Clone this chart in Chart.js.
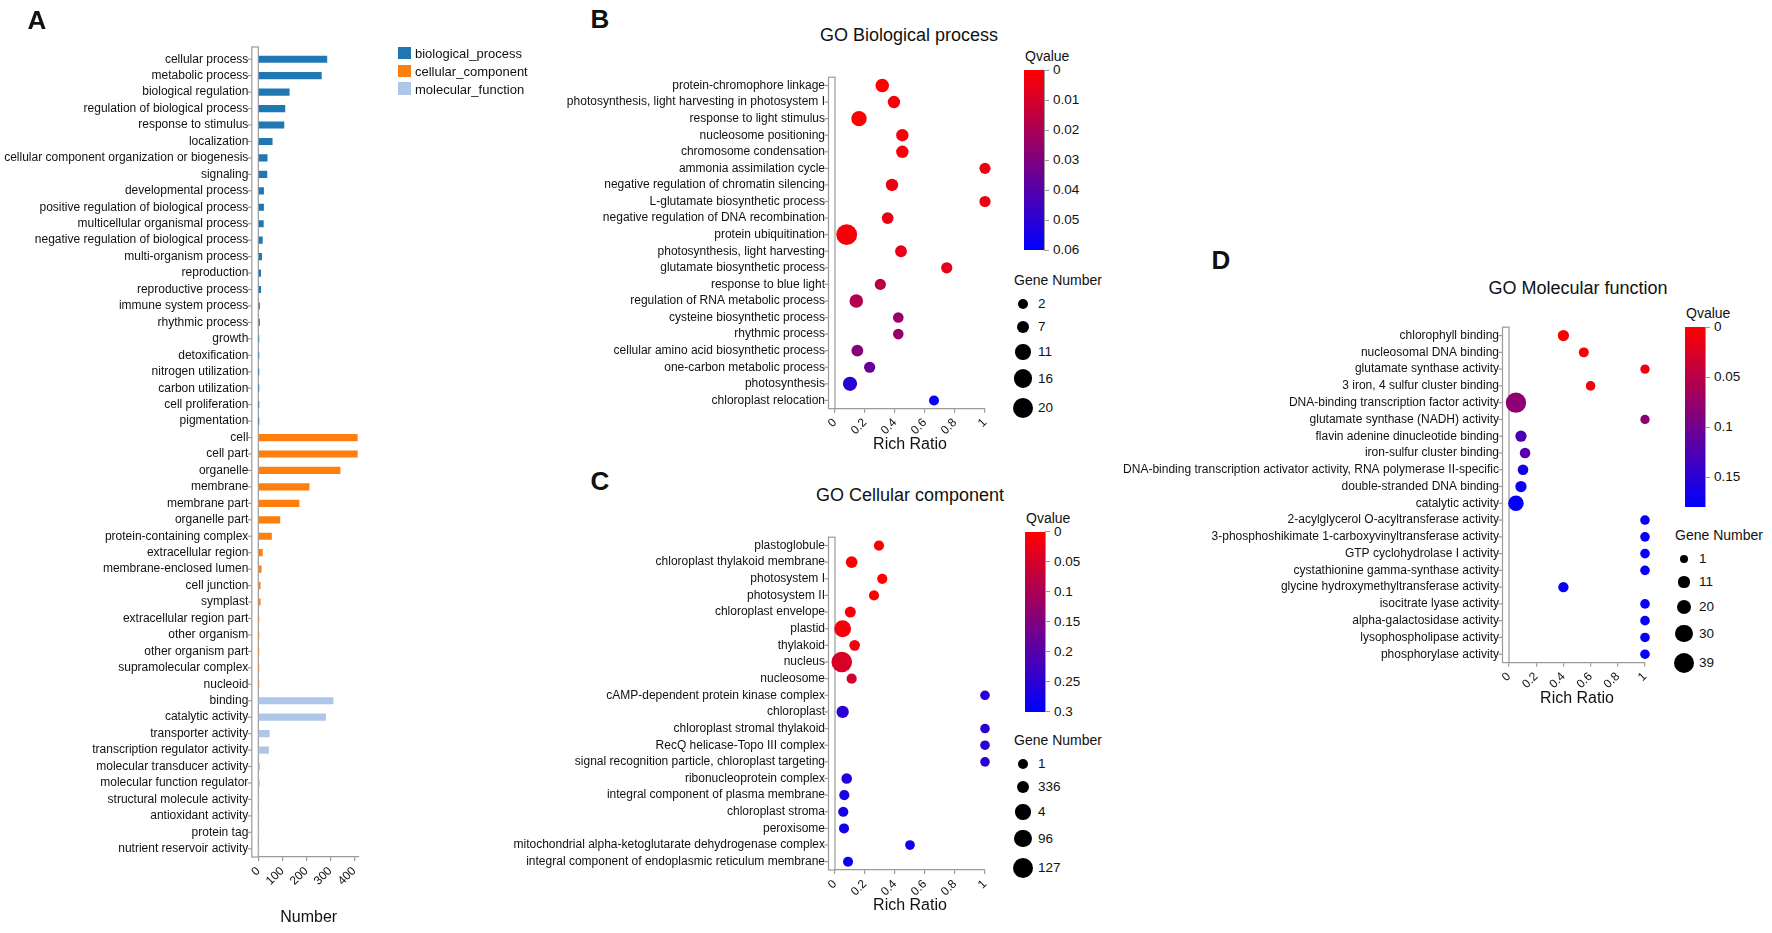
<!DOCTYPE html>
<html>
<head>
<meta charset="utf-8">
<script src="https://cdn.jsdelivr.net/npm/chart.js@4.4.1/dist/chart.umd.min.js"></script>
<style>
  body { margin: 0; background: #fff; font-family: 'Liberation Sans', Arial, sans-serif; color: #111; }
  #page { position: relative; width: 1772px; height: 933px; overflow: hidden; background: #fff; }
  canvas { position: absolute; }
  .abs { position: absolute; white-space: nowrap; line-height: 1; }
</style>
</head>
<body>
<div id="page">
  <canvas id="chartA" width="395" height="933" style="left:0;top:0;width:395px;height:933px"></canvas>
  <canvas id="chartB" width="500" height="400" style="left:500px;top:60px;width:500px;height:400px"></canvas>
  <canvas id="chartC" width="500" height="401" style="left:500px;top:520px;width:500px;height:401px"></canvas>
  <canvas id="chartD" width="550" height="404" style="left:1110px;top:310px;width:550px;height:404px"></canvas>
</div>
<script>
// ---- panel A: GO classification counts ----
const bpCats = ['cellular process', 'metabolic process', 'biological regulation', 'regulation of biological process',
  'response to stimulus', 'localization', 'cellular component organization or biogenesis', 'signaling',
  'developmental process', 'positive regulation of biological process', 'multicellular organismal process',
  'negative regulation of biological process', 'multi-organism process', 'reproduction', 'reproductive process',
  'immune system process', 'rhythmic process', 'growth', 'detoxification', 'nitrogen utilization',
  'carbon utilization', 'cell proliferation', 'pigmentation'];
const bpCounts = [286, 263, 129, 111, 107, 58, 37, 36, 22, 22, 21, 17, 14, 10, 10, 5, 5, 2, 2, 1, 1, 1, 1];

const ccCats = ['cell', 'cell part', 'organelle', 'membrane', 'membrane part', 'organelle part',
  'protein-containing complex', 'extracellular region', 'membrane-enclosed lumen', 'cell junction', 'symplast',
  'extracellular region part', 'other organism', 'other organism part', 'supramolecular complex', 'nucleoid'];
const ccCounts = [413, 413, 341, 212, 170, 90, 55, 17, 12, 8, 8, 2, 1, 1, 1, 1];

const mfCats = ['binding', 'catalytic activity', 'transporter activity', 'transcription regulator activity',
  'molecular transducer activity', 'molecular function regulator', 'structural molecule activity',
  'antioxidant activity', 'protein tag', 'nutrient reservoir activity'];
const mfCounts = [312, 281, 46, 43, 6, 5, 2, 1, 1, 1];

const aTicks = [0, 100, 200, 300, 400];

// ---- panel B: GO Biological process enrichment ----
const bpTerms = ['protein-chromophore linkage', 'photosynthesis, light harvesting in photosystem I',
  'response to light stimulus', 'nucleosome positioning', 'chromosome condensation', 'ammonia assimilation cycle',
  'negative regulation of chromatin silencing', 'L-glutamate biosynthetic process',
  'negative regulation of DNA recombination', 'protein ubiquitination', 'photosynthesis, light harvesting',
  'glutamate biosynthetic process', 'response to blue light', 'regulation of RNA metabolic process',
  'cysteine biosynthetic process', 'rhythmic process', 'cellular amino acid biosynthetic process',
  'one-carbon metabolic process', 'photosynthesis', 'chloroplast relocation'];
const bpRich = [0.315, 0.393, 0.16, 0.449, 0.449, 1.0, 0.38, 1.0, 0.351, 0.078,
  0.44, 0.745, 0.302, 0.142, 0.422, 0.422, 0.149, 0.231, 0.1, 0.66];
const bpGenes = [8, 6, 11, 6, 6, 4, 6, 4, 5, 20, 5, 4, 4, 8, 3, 3, 5, 4, 9, 2];
const bpQ = [0.0, 0.002, 0.0, 0.002, 0.002, 0.004, 0.004, 0.004, 0.005, 0.002,
  0.005, 0.006, 0.016, 0.018, 0.025, 0.025, 0.028, 0.036, 0.05, 0.058];
const bpQTicks = [0, 0.01, 0.02, 0.03, 0.04, 0.05, 0.06];
const bpSizeTicks = [2, 7, 11, 16, 20];

// ---- panel C: GO Cellular component enrichment ----
const ccTerms = ['plastoglobule', 'chloroplast thylakoid membrane', 'photosystem I', 'photosystem II',
  'chloroplast envelope', 'plastid', 'thylakoid', 'nucleus', 'nucleosome', 'cAMP-dependent protein kinase complex',
  'chloroplast', 'chloroplast stromal thylakoid', 'RecQ helicase-Topo III complex',
  'signal recognition particle, chloroplast targeting', 'ribonucleoprotein complex',
  'integral component of plasma membrane', 'chloroplast stroma', 'peroxisome',
  'mitochondrial alpha-ketoglutarate dehydrogenase complex', 'integral component of endoplasmic reticulum membrane'];
const ccRich = [0.293, 0.111, 0.315, 0.26, 0.102, 0.051, 0.131, 0.045, 0.111, 1.0,
  0.051, 1.0, 1.0, 1.0, 0.078, 0.062, 0.055, 0.06, 0.5, 0.087];
const ccGenes = [20, 64, 20, 20, 45, 222, 33, 336, 20, 1, 83, 1, 1, 1, 32, 20, 20, 14, 4, 14];
const ccQ = [0.0, 0.005, 0.0, 0.005, 0.01, 0.01, 0.015, 0.045, 0.055, 0.25,
  0.25, 0.25, 0.25, 0.25, 0.26, 0.27, 0.27, 0.28, 0.28, 0.29];
const ccQTicks = [0, 0.05, 0.1, 0.15, 0.2, 0.25, 0.3];
const ccSizeTicks = [1, 336, 4, 96, 127];

// ---- panel D: GO Molecular function enrichment ----
const mfTerms = ['chlorophyll binding', 'nucleosomal DNA binding', 'glutamate synthase activity',
  '3 iron, 4 sulfur cluster binding', 'DNA-binding transcription factor activity',
  'glutamate synthase (NADH) activity', 'flavin adenine dinucleotide binding', 'iron-sulfur cluster binding',
  'DNA-binding transcription activator activity, RNA polymerase II-specific', 'double-stranded DNA binding',
  'catalytic activity', '2-acylglycerol O-acyltransferase activity',
  '3-phosphoshikimate 1-carboxyvinyltransferase activity', 'GTP cyclohydrolase I activity',
  'cystathionine gamma-synthase activity', 'glycine hydroxymethyltransferase activity',
  'isocitrate lyase activity', 'alpha-galactosidase activity', 'lysophospholipase activity',
  'phosphorylase activity'];
const mfRich = [0.40, 0.55, 1.0, 0.6, 0.051, 1.0, 0.088, 0.118, 0.103, 0.088,
  0.051, 1.0, 1.0, 1.0, 1.0, 0.40, 1.0, 1.0, 1.0, 1.0];
const mfGenes = [11, 7, 5, 6, 39, 5, 11, 9, 9, 11, 24, 6, 6, 6, 6, 8, 6, 6, 6, 6];
const mfQ = [0.0, 0.005, 0.01, 0.01, 0.08, 0.08, 0.125, 0.12, 0.165, 0.17,
  0.175, 0.175, 0.175, 0.175, 0.175, 0.175, 0.175, 0.175, 0.175, 0.175];
const mfQTicks = [0, 0.05, 0.1, 0.15];
const mfSizeTicks = [1, 11, 20, 30, 39];

const richTicks = [0, 0.2, 0.4, 0.6, 0.8, 1];

const FONT = "'Liberation Sans', Arial, sans-serif";
const AXIS_GREY = '#9a9a9a';
Chart.defaults.font.family = FONT;
Chart.defaults.font.size = 12;
Chart.defaults.color = '#111';

const page = document.getElementById('page');

function addText(txt, x, y, size, opts = {}) {
  const d = document.createElement('div');
  d.className = 'abs';
  d.textContent = txt;
  d.style.left = x + 'px';
  d.style.top = y + 'px';
  d.style.fontSize = size + 'px';
  if (opts.bold) d.style.fontWeight = 'bold';
  const tx = opts.align === 'center' ? '-50%' : (opts.align === 'right' ? '-100%' : '0');
  d.style.transform = `translate(${tx}, -50%)`;
  page.appendChild(d);
  return d;
}

function addBox(x, y, w, h, style) {
  const d = document.createElement('div');
  d.className = 'abs';
  d.style.left = x + 'px';
  d.style.top = y + 'px';
  d.style.width = w + 'px';
  d.style.height = h + 'px';
  Object.assign(d.style, style);
  page.appendChild(d);
  return d;
}

function qColor(q, qMax) {
  const t = Math.max(0, Math.min(1, q / qMax));
  return `rgb(${Math.round(255 * (1 - t))},0,${Math.round(255 * t)})`;
}

function makeSize(nMin, nMax, rMin, rMax) {
  return (n) => rMin + (n - nMin) * (rMax - rMin) / (nMax - nMin);
}

// grey framed y axis with small ticks, like the original plots
const axisBox = {
  id: 'axisBox',
  beforeDatasetsDraw(chart, args, opts) {
    const { ctx, chartArea, scales } = chart;
    const y = scales.y;
    const w = 6.5;
    const top = chartArea.top - (opts.extraTop || 0);
    ctx.save();
    ctx.strokeStyle = AXIS_GREY;
    ctx.lineWidth = 1.2;
    ctx.strokeRect(chartArea.left - w, top, w, chartArea.bottom - top);
    y.ticks.forEach((t, i) => {
      const py = y.getPixelForTick(i);
      ctx.beginPath();
      ctx.moveTo(chartArea.left - w - 4, py);
      ctx.lineTo(chartArea.left - w, py);
      ctx.stroke();
    });
    ctx.restore();
  },
};

function xAxis(min, max, tickVals, height, title) {
  return {
    type: 'linear',
    min, max,
    afterFit: (scale) => { scale.height = height; },
    afterBuildTicks: (scale) => { scale.ticks = tickVals.map((v) => ({ value: v })); },
    border: { display: true, color: AXIS_GREY, width: 1.2 },
    grid: { drawOnChartArea: false, drawTicks: true, tickLength: 4, color: AXIS_GREY, lineWidth: 1.2 },
    ticks: {
      minRotation: 45, maxRotation: 45, color: '#111', font: { size: 12 }, padding: 3,
      callback: (v) => String(v),
    },
    title: { display: true, text: title, color: '#111', font: { size: 16 }, padding: { top: 0, bottom: 5.4 } },
  };
}

function yAxis(labels, width) {
  return {
    type: 'category',
    labels,
    offset: true,
    afterFit: (scale) => { scale.width = width; },
    border: { display: false },
    grid: { display: false, drawTicks: false },
    ticks: { autoSkip: false, padding: 10, color: '#111', font: { size: 12 } },
  };
}

// ---------------- Panel A ----------------
const aLabels = [...bpCats, ...ccCats, ...mfCats];
new Chart(document.getElementById('chartA'), {
  type: 'bar',
  data: {
    labels: aLabels,
    datasets: [
      { label: 'biological_process', data: bpCats.map((c, i) => ({ x: bpCounts[i], y: c })), backgroundColor: '#1f77b4' },
      { label: 'cellular_component', data: ccCats.map((c, i) => ({ x: ccCounts[i], y: c })), backgroundColor: '#ff7f0e' },
      { label: 'molecular_function', data: mfCats.map((c, i) => ({ x: mfCounts[i], y: c })), backgroundColor: '#aec7e8' },
    ],
  },
  options: {
    indexAxis: 'y',
    responsive: false,
    animation: false,
    events: [],
    layout: { padding: { top: 51, right: 36, left: 0, bottom: 0 } },
    datasets: { bar: { grouped: false, barThickness: 6.5, borderWidth: 0 } },
    plugins: { legend: { display: false }, tooltip: { enabled: false }, axisBox: { extraTop: 4 } },
    scales: {
      x: xAxis(0, 420, aTicks, 76, 'Number'),
      y: yAxis(aLabels, 258.3),
    },
  },
  plugins: [axisBox],
});

// A legend
const aLegend = [['biological_process', '#1f77b4'], ['cellular_component', '#ff7f0e'], ['molecular_function', '#aec7e8']];
aLegend.forEach(([name, col], i) => {
  const top = 46.7 + i * 17.8;
  addBox(398, top, 12.7, 12.6, { background: col });
  addText(name, 415, top + 6.5, 13);
});

// ---------------- Bubble panels ----------------
function bubbleChart(id, terms, rich, genes, qvals, qMax, sizeFn, cfg) {
  const data = terms.map((t, i) => ({ x: rich[i], y: t, r: sizeFn(genes[i]) }));
  return new Chart(document.getElementById(id), {
    type: 'bubble',
    data: {
      datasets: [{
        data,
        backgroundColor: qvals.map((q) => qColor(q, qMax)),
        borderWidth: 0,
        clip: false,
      }],
    },
    options: {
      responsive: false,
      animation: false,
      events: [],
      layout: { padding: { top: cfg.padTop, right: cfg.padRight, left: 0, bottom: 0 } },
      plugins: { legend: { display: false }, tooltip: { enabled: false }, axisBox: {} },
      scales: {
        x: xAxis(0, 1, richTicks, cfg.xHeight, 'Rich Ratio'),
        y: yAxis(terms, cfg.yWidth),
      },
    },
    plugins: [axisBox],
  });
}

const sizeB = makeSize(2, 20, 5, 10.4);
const sizeC = makeSize(1, 336, 4.8, 10.3);
const sizeD = makeSize(1, 39, 4, 10.2);

bubbleChart('chartB', bpTerms, bpRich, bpGenes, bpQ, 0.06, sizeB, { padTop: 12.6, padRight: 15, yWidth: 335, xHeight: 51.3 });
bubbleChart('chartC', ccTerms, ccRich, ccGenes, ccQ, 0.3, sizeC, { padTop: 12.05, padRight: 15, yWidth: 335, xHeight: 51 });
bubbleChart('chartD', mfTerms, mfRich, mfGenes, mfQ, 0.18, sizeD, { padTop: 16.6, padRight: 15, yWidth: 399, xHeight: 51.4 });

// ---------------- legends ----------------
function colorBar(x, top, height, qMax, ticks) {
  addText('Qvalue', x + 1, top - 14, 14);
  addBox(x, top, 20, height, { background: 'linear-gradient(to bottom, rgb(255,0,0), rgb(0,0,255))' });
  addBox(x + 20, top, 1, height, { background: AXIS_GREY });
  ticks.forEach((v) => {
    const y = top + (v / qMax) * height;
    addBox(x + 20, y - 0.5, 5, 1, { background: AXIS_GREY });
    addText(String(v), x + 29, y, 13.5);
  });
}

function sizeLegend(x, titleY, labels, rMin, rMax) {
  addText('Gene Number', x - 9, titleY, 14);
  const offs = [24, 47, 72, 98.5, 128];
  labels.forEach((lab, i) => {
    const r = rMin + (rMax - rMin) * i / (labels.length - 1);
    const y = titleY + offs[i];
    addBox(x - r, y - r, 2 * r, 2 * r, { background: '#000', borderRadius: '50%' });
    addText(String(lab), x + 15, y, 13.5);
  });
}

colorBar(1024, 70, 180, 0.06, bpQTicks);
sizeLegend(1023, 280, bpSizeTicks, 5, 10.4);

colorBar(1025, 531.7, 180, 0.3, ccQTicks);
sizeLegend(1023, 740, ccSizeTicks, 5, 10.2);

colorBar(1685, 327, 180, 0.18, mfQTicks);
sizeLegend(1684, 535, mfSizeTicks, 4, 10.2);

// ---------------- titles and panel letters ----------------
addText('A', 37, 20, 26, { bold: true, align: 'center' });
addText('B', 600, 19, 26, { bold: true, align: 'center' });
addText('C', 600, 481, 26, { bold: true, align: 'center' });
addText('D', 1221, 260, 26, { bold: true, align: 'center' });

addText('GO Biological process', 909, 35, 18, { align: 'center' });
addText('GO Cellular component', 910, 495, 18, { align: 'center' });
addText('GO Molecular function', 1578, 288, 18, { align: 'center' });
</script>
</body>
</html>
